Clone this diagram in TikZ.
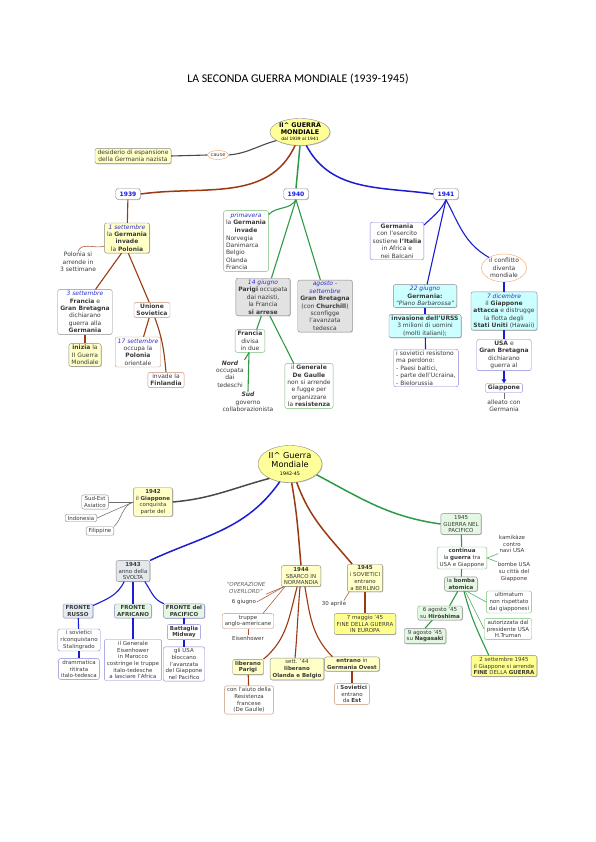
\documentclass[tikz,border=0pt]{standalone}
\usepackage{fontspec}
\setmainfont{DejaVu Sans}
\newfontfamily\titlefont{Carlito}
\usetikzlibrary{shapes.geometric,shadows,arrows.meta}

\definecolor{ink}{HTML}{3A3A3A}
\definecolor{datecol}{HTML}{3030D0}
\definecolor{yearcol}{HTML}{1A1AE0}
\definecolor{paleyel}{HTML}{FFFFC6}
\definecolor{deepyel}{HTML}{FFFF8E}
\definecolor{rootyel}{HTML}{FFFF99}
\definecolor{palegrey}{HTML}{E2E2E2}
\definecolor{paleblue}{HTML}{E4EBF2}
\definecolor{palecyan}{HTML}{CCFFFF}
\definecolor{palegreen}{HTML}{E3F7E3}
\definecolor{boxedge}{HTML}{8A8A8A}
\definecolor{rustedge}{HTML}{C49075}
\definecolor{leafedge}{HTML}{74BE74}
\definecolor{blueedge}{HTML}{8484D8}
\definecolor{ringedge}{HTML}{F0A060}
\definecolor{rust}{HTML}{9A3A12}
\definecolor{leaf}{HTML}{2F9A45}
\definecolor{navy}{HTML}{1C1CD4}
\definecolor{slate}{HTML}{4A4A4A}

\newcommand\topsize{\fontsize{6}{7.4}\selectfont}
\newcommand\lowsize{\fontsize{5.5}{6.7}\selectfont}
\newcommand\when[1]{\textcolor{datecol}{\textit{#1}}}

\tikzset{
  topic/.style={
    rounded corners=2pt,
    inner xsep=2.5pt,
    inner ysep=1.6pt,
    align=center,
    text=ink
  },
  lifted/.style={drop shadow={shadow xshift=.7pt,shadow yshift=-.7pt,opacity=.45}},
  yelbox/.style={topic,draw=boxedge,fill=paleyel,lifted},
  goldbox/.style={topic,draw=boxedge,fill=deepyel,lifted},
  greybox/.style={topic,draw=boxedge,fill=palegrey,lifted},
  cyanbox/.style={topic,draw=boxedge,fill=palecyan,lifted},
  mintbox/.style={topic,draw=boxedge,fill=palegreen,lifted},
  rustbox/.style={topic,draw=rustedge,fill=white},
  leafbox/.style={topic,draw=leafedge,fill=white},
  bluebox/.style={topic,draw=blueedge,fill=white},
  greybare/.style={topic,draw=boxedge,fill=white},
  bare/.style={topic,inner sep=.5pt},
  yearbox/.style={
    topic,
    draw=boxedge,
    fill=white,
    lifted,
    text=yearcol,
    font=\bfseries\fontsize{6}{7}\selectfont,
    minimum width=25pt,
    minimum height=11pt,
    rounded corners=3pt
  },
  rootnode/.style={ellipse,draw=boxedge,fill=rootyel,lifted,align=center,inner sep=0pt,text=black},
  ring/.style={ellipse,draw=ringedge,fill=white,align=center,inner sep=0pt,text=ink},
  trunk/.style={line width=1.5pt},
  rustline/.style={draw=rust,line width=1.1pt},
  rusttwig/.style={draw=rust!85,line width=.55pt},
  leafline/.style={draw=leaf,line width=1.1pt},
  leaftwig/.style={draw=leaf!85,line width=.55pt},
  navyline/.style={draw=navy,line width=1.1pt},
  slateline/.style={draw=slate,line width=1.1pt},
  slatetwig/.style={draw=slate!80,line width=.55pt}
}

\begin{document}
\begin{tikzpicture}[x=1pt,y=-1pt]
  \useasboundingbox[fill=white] (0,0) rectangle (595,842);

  \node[font=\titlefont\fontsize{11.8}{13}\selectfont] (title) at (298,79) {LA SECONDA GUERRA MONDIALE (1939-1945)};

  % 1939-1941
  \begin{scope}[font=\topsize]
  \node[rootnode,minimum width=60pt,minimum height=27pt,font=\bfseries\fontsize{6.4}{6.6}\selectfont] (war1) at (300,132)
    {II\textasciicircum{} GUERRA\\MONDIALE\\[-.5pt]{\mdseries\fontsize{4.4}{5}\selectfont dal 1939 al 1941}};
  \node[yelbox] (desire) at (133,156) {desiderio di espansione\\della Germania nazista};
  \node[ring,minimum width=18pt,minimum height=9pt,font=\fontsize{5}{6}\selectfont] (cause) at (218,155) {cause};
  \node[yearbox] (y39) at (128,194) {1939};
  \node[yearbox] (y40) at (296,194) {1940};
  \node[yearbox] (y41) at (446,194) {1941};

  \node[yelbox] (sept1) at (127,238) {\when{1 settembre}\\la \textbf{Germania}\\\textbf{invade}\\la \textbf{Polonia}};
  \node[bare] (surrend) at (78,262) {Polonia si\\arrende in\\3 settimane};
  \node[greybare] (sept3) at (85,312) {\when{3 settembre}\\\textbf{Francia} e\\\textbf{Gran Bretagna}\\dichiarano\\guerra alla\\\textbf{Germania}};
  \node[yelbox] (start) at (85,355) {\textbf{inizia} la\\II Guerra\\Mondiale};
  \node[rustbox] (ussr) at (152,310) {\textbf{Unione}\\\textbf{Sovietica}};
  \node[rustbox] (sept17) at (138,352) {\when{17 settembre}\\occupa la\\\textbf{Polonia}\\orientale};
  \node[rustbox] (finland) at (166,380) {invade la\\\textbf{Finlandia}};

  \node[leafbox,align=left] (spring) at (246,241)
    {\begin{tabular}{@{}c@{}}\when{primavera}\\la \textbf{Germania}\\\textbf{invade}\end{tabular}\\Norvegia\\Danimarca\\Belgio\\Olanda\\Francia};
  \node[greybox] (june14) at (263,297) {\when{14 giugno}\\\textbf{Parigi} occupata\\dai nazisti,\\la Francia\\\textbf{si arrese}};
  \node[greybox] (augsep) at (325,306) {\when{agosto -}\\\when{settembre}\\\textbf{Gran Bretagna}\\(con \textbf{Churchill})\\sconfigge\\l'avanzata\\tedesca};
  \node[leafbox] (split) at (250,341) {\textbf{Francia}\\divisa\\in due};
  \node[bare] (north) at (230,374) {\textbf{\textit{Nord}}\\occupata\\dai\\tedeschi};
  \node[bare] (south) at (248,402) {\textbf{\textit{Sud}}\\governo\\collaborazionista};
  \node[leafbox] (gaulle) at (309,386) {il \textbf{Generale}\\\textbf{De Gaulle}\\non si arrende\\e fugge per\\organizzare\\la \textbf{resistenza}};

  \node[bluebox] (italy) at (397,241) {\textbf{Germania}\\con l'esercito\\sostiene \textbf{l'Italia}\\in Africa e\\nei Balcani};
  \node[ring,minimum width=45pt,minimum height=28pt] (world) at (504,268) {il conflitto\\diventa\\mondiale};
  \node[cyanbox] (june22) at (425,296) {\when{22 giugno}\\\textbf{Germania:}\\\textit{``Piano Barbarossa''}};
  \node[cyanbox] (urss) at (425,326) {\textbf{invasione dell'URSS}\\3 milioni di uomini\\(molti italiani);};
  \node[bluebox,align=left] (resist) at (426,368) {i sovietici resistono\\ma perdono:\\- Paesi baltici,\\- parte dell'Ucraina,\\- Bielorussia};
  \node[cyanbox] (dec7) at (504,311) {\when{7 dicembre}\\il \textbf{Giappone}\\\textbf{attacca} e distrugge\\la flotta degli\\\textbf{Stati Uniti} (Hawaii)};
  \node[bluebox] (declare) at (504,355) {\textbf{USA} e\\\textbf{Gran Bretagna}\\dichiarano\\guerra al};
  \node[bluebox] (japan) at (504,388) {\textbf{Giappone}};
  \node[bare] (ally) at (504,406) {alleato con\\Germania};
  \end{scope}

  \draw[slateline] (war1.200) to[out=195,in=5] (cause.east);
  \draw[slateline] (cause.west) -- (desire.east);
  \draw[rustline,trunk] (war1.250) to[out=245,in=8] (y39.east);
  \draw[leafline,trunk] (war1.south) -- (y40.north);
  \draw[navyline,trunk] (war1.295) to[out=-62,in=172] (y41.west);

  \draw[rustline] (y39) -- (sept1);
  \draw[rusttwig] (sept1.200) to[out=195,in=70] (surrend.north);
  \draw[rustline] (sept1.250) -- (sept3.65);
  \draw[rustline] (sept1.275) -- (ussr.110);
  \draw[rustline] (sept3) -- (start);
  \draw[rustline] (ussr.250) -- (sept17.70);
  \draw[rustline] (ussr.290) to[out=-70,in=95] (finland.north);

  \draw[leafline] (y40.south) to[out=240,in=45] ([yshift=-4pt]spring.north east);
  \draw[leafline] (y40.south) -- (june14.66);
  \draw[leafline] (y40.south) -- (augsep.100);
  \draw[leafline] (june14.265) -- (split.60);
  \draw[leafline] (june14.290) -- (gaulle.124);
  \draw[leafline] (split.265) -- (south.north);
  \draw[leafline] (split.265) -- (north.north east);

  \draw[navyline] (y41.south) to[out=245,in=45] ([yshift=-3pt]italy.north east);
  \draw[navyline] (y41.south) -- (june22.80);
  \draw[navyline] (y41.south) to[out=-62,in=150] (world.145);
  \draw[navyline] (june22) -- (urss);
  \draw[navyline] (urss) -- (resist);
  \draw[navyline] (world) -- (dec7);
  \draw[navyline] (dec7) -- (declare);
  \draw[navyline,-{Triangle[length=4pt,width=4.5pt]}] (declare) -- (japan);
  \draw[slatetwig] (japan) -- (ally);

  % 1942-1945
  \begin{scope}[font=\lowsize]
  \node[rootnode,minimum width=64pt,minimum height=37pt,font=\fontsize{8.2}{8.4}\selectfont] (war2) at (290,464)
    {II\textasciicircum{} Guerra\\Mondiale\\{\fontsize{4.8}{6}\selectfont 1942-45}};
  \node[yelbox] (y42) at (153,502) {\textbf{1942}\\il \textbf{Giappone}\\conquista\\parte del};
  \node[greybare] (seasia) at (95,502) {Sud-Est\\Asiatico};
  \node[greybare] (indonesia) at (81,518) {Indonesia};
  \node[greybare] (philip) at (100,531) {Filippine};

  \node[greybox,fill=paleblue!70!palegrey] (y43) at (133,571) {\textbf{1943}\\anno della\\SVOLTA};
  \node[bluebox,fill=paleblue,lifted] (russo) at (78,611) {\textbf{FRONTE}\\\textbf{RUSSO}};
  \node[bluebox,fill=palegreen,lifted] (africa) at (133,611) {\textbf{FRONTE}\\\textbf{AFRICANO}};
  \node[bluebox,fill=palegreen,lifted] (pacific) at (184,611) {\textbf{FRONTE del}\\\textbf{PACIFICO}};
  \node[bluebox] (stalin) at (79,640) {i sovietici\\riconquistano\\Stalingrado};
  \node[bluebox] (retreat) at (79,669) {drammatica\\ritirata\\italo-tedesca};
  \node[bluebox] (eisen) at (133,660) {il Generale\\Eisenhower\\in Marocco\\costringe le truppe\\italo-tedesche\\a lasciare l'Africa};
  \node[bluebox] (midway) at (184,632) {\textbf{Battaglia}\\\textbf{Midway}};
  \node[bluebox] (block) at (184,664) {gli USA\\bloccano\\l'avanzata\\del Giappone\\nel Pacifico};

  \node[yelbox] (y44) at (301,576) {\textbf{1944}\\SBARCO IN\\NORMANDIA};
  \node[yelbox] (berlin) at (365,578) {\textbf{1945}\\i SOVIETICI\\entrano\\a BERLINO};
  \node[bare,text=ink!80] (overlord) at (246,588) {\textit{``OPERAZIONE}\\\textit{OVERLORD''}};
  \node[bare] (dday) at (244,602) {6 giugno};
  \node[rustbox] (troops) at (248,621) {truppe\\anglo-americane};
  \node[bare] (ike) at (248,638) {Eisenhower};
  \node[bare] (april) at (334,604) {30 aprile};
  \node[goldbox] (may7) at (365,624) {7 maggio '45\\FINE DELLA GUERRA\\IN EUROPA};
  \node[yelbox] (paris) at (248,667) {\textbf{liberano}\\\textbf{Parigi}};
  \node[rustbox] (resis) at (249,700) {con l'aiuto della\\Resistenza\\francese\\(De Gaulle)};
  \node[yelbox] (nlbe) at (297,669) {sett. '44\\\textbf{liberano}\\\textbf{Olanda e Belgio}};
  \node[yelbox] (west) at (352,664) {\textbf{entrano} in\\\textbf{Germania Ovest}};
  \node[rustbox] (east) at (352,694) {i \textbf{Sovietici}\\entrano\\da \textbf{Est}};

  \node[mintbox] (pac45) at (461,524) {1945\\GUERRA NEL\\PACIFICO};
  \node[leafbox] (cont) at (462,558) {\textbf{continua}\\la \textbf{guerra} tra\\USA e Giappone};
  \node[bare] (kami) at (512,544) {kamikàze\\contro\\navi USA};
  \node[bare] (bombs) at (514,572) {bombe USA\\su città del\\Giappone};
  \node[mintbox] (atom) at (461,584) {la \textbf{bomba}\\\textbf{atomica}};
  \node[leafbox] (ultim) at (509,602) {ultimatum\\non rispettato\\dai giapponesi};
  \node[leafbox] (truman) at (508,629) {autorizzata dal\\presidente USA\\H.Truman};
  \node[mintbox] (hiro) at (440,613) {6 agosto '45\\su \textbf{Hiròshima}};
  \node[mintbox] (naga) at (425,636) {9 agosto '45\\su \textbf{Nagasaki}};
  \node[goldbox] (endwar) at (504,666) {2 settembre 1945\\il Giappone si arrende\\\textbf{FINE} DELLA \textbf{GUERRA}};
  \end{scope}

  \draw[slateline,trunk] (war2.215) to[out=195,in=5] (y42.east);
  \draw[slatetwig] (y42.west) -- (seasia.east);
  \draw[slatetwig] (y42.west) -- (indonesia.east);
  \draw[slatetwig] (y42.west) to[out=200,in=45] (philip.north east);

  \draw[navyline,trunk] (war2.240) to[out=235,in=25] (y43.north east);
  \draw[navyline] (y43.230) to[out=245,in=25] (russo.20);
  \draw[navyline] (y43) -- (africa);
  \draw[navyline] (y43.318) to[out=-55,in=160] (pacific.160);
  \draw[navyline] (russo) -- (stalin);
  \draw[navyline] (stalin) -- (retreat);
  \draw[navyline] (africa) -- (eisen);
  \draw[navyline] (pacific) -- (midway);
  \draw[navyline] (midway) -- (block);

  \draw[rustline,trunk] (war2.275) to[out=-80,in=95] (y44.north);
  \draw[rustline,trunk] (war2.290) to[out=-70,in=130] ([xshift=5pt]berlin.north west);
  \draw[rusttwig] ([xshift=3pt]y44.south west) -- (overlord.south east);
  \draw[rusttwig] ([xshift=3pt]y44.south west) -- (dday.east);
  \draw[rusttwig] ([xshift=4pt]y44.south west) -- (troops.27);
  \draw[rusttwig] (troops) -- (ike);
  \draw[rustline] (y44.250) to[out=255,in=40] (paris.north east);
  \draw[rustline] (y44.265) to[out=265,in=85] (nlbe.100);
  \draw[rustline] (y44.290) to[out=-80,in=135] ([xshift=8pt]west.north west);
  \draw[rustline] (paris) -- (resis);
  \draw[rustline] (west) -- (east);
  \draw[rusttwig] ([xshift=2pt]berlin.south west) -- ([xshift=-3pt]april.north east);
  \draw[rustline] (berlin) -- (may7);

  \draw[leafline,trunk] (war2.-22) to[out=-28,in=172] (pac45.west);
  \draw[leafline] (pac45) -- (cont);
  \draw[leaftwig] (cont.east) -- (kami.south west);
  \draw[leaftwig] (cont.east) -- (bombs.north west);
  \draw[leafline] (cont) -- (atom);
  \draw[leaftwig] (atom.308) -- (ultim.west);
  \draw[leaftwig] (atom.300) -- (truman.west);
  \draw[leafline] (atom.246) -- (hiro.37);
  \draw[leafline] (hiro.223) -- (naga.north);
  \draw[leafline] (atom.292) to[out=-75,in=115] (endwar.145);
\end{tikzpicture}
\end{document}
